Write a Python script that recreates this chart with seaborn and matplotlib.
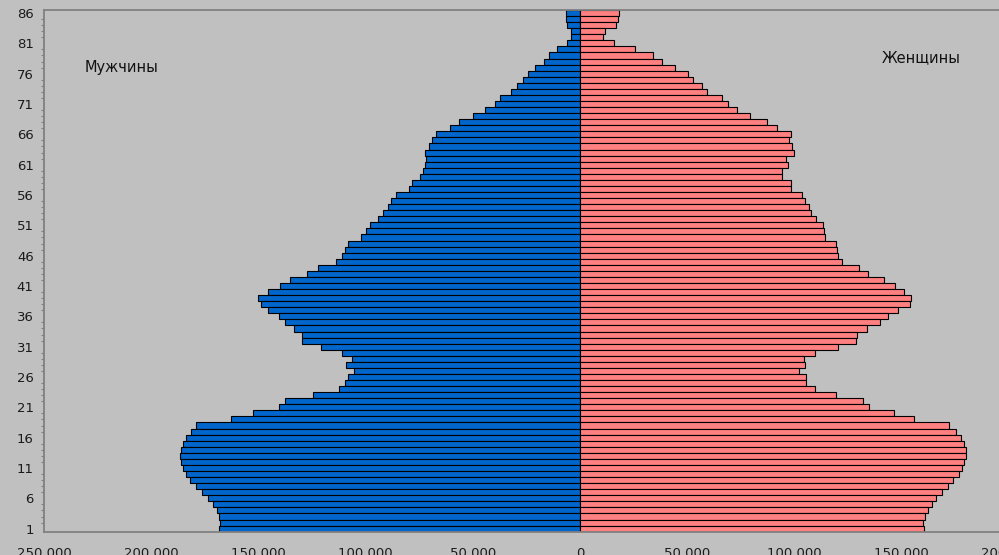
import matplotlib
matplotlib.use("Agg")
import matplotlib.pyplot as plt
import pandas as pd
import seaborn as sns
from matplotlib.ticker import FuncFormatter

# Single-year age groups, youngest first
ages = list(range(1, 87))

# Number of men per age (drawn to the left of zero)
men = [
    168400, 167900, 168400, 169500, 171300, 173600, 176400, 179100, 181800, 183900,
    185500, 186400, 186700, 186400, 185500, 183900, 181600, 179200, 162900, 152400,
    140700, 137900, 124600, 112700, 109600, 108300, 105700, 109300, 106500, 111100,
    120900, 129800, 129800, 133700, 137900, 140700, 145400, 148800, 150100, 145400,
    139900, 135300, 127500, 122500, 114000, 110900, 109600, 108100, 102000, 99800,
    97800, 94500, 92000, 89700, 88000, 86000, 79900, 78300, 74600, 73200,
    72400, 71800, 72200, 70300, 68900, 67300, 60600, 56300, 50200, 44400,
    39600, 37200, 32200, 29500, 26800, 24400, 21000, 16800, 14700, 10800,
    6200, 4300, 4300, 5900, 6400, 6400,
]

# Number of women per age (drawn to the right of zero)
women = [
    160500, 160000, 161000, 162400, 164200, 165900, 168700, 171500, 174200, 176700,
    178400, 179200, 179900, 179900, 179200, 177600, 175300, 172200, 155800, 146400,
    134800, 132000, 119600, 109800, 105600, 105600, 102000, 104900, 104400, 109500,
    120100, 128600, 129200, 133900, 139800, 143600, 148400, 154100, 154300, 151000,
    146800, 141800, 134400, 130200, 122000, 120400, 119700, 119400, 114200, 113900,
    113400, 110000, 107700, 106600, 104900, 103500, 98400, 98400, 94000, 94000,
    97000, 96000, 99600, 98700, 97600, 98400, 92000, 87300, 79200, 73000,
    69100, 66000, 59200, 57000, 52500, 50400, 44200, 38000, 34100, 25600,
    15800, 10800, 11400, 16700, 17500, 18300,
]

sex_labels = ["Мужчины", "Женщины"]
sex_colors = ["#0066cc", "#ff8080"]
x_ticks = [-250000, -200000, -150000, -100000, -50000, 0, 50000, 100000, 150000, 200000]
labelled_ages = list(range(1, 87, 5))

df = pd.DataFrame({
    "age": [str(a) for a in ages] * 2,
    "sex": [sex_labels[0]] * len(ages) + [sex_labels[1]] * len(ages),
    "value": [-m for m in men] + list(women),
})
order = [str(a) for a in reversed(ages)]

sns.set_theme(style="white")
plt.rcParams["font.family"] = ["DejaVu Sans"]

bg = "#c0c0c0"
axis_grey = "#808080"

fig = plt.figure(figsize=(9.99, 5.55), dpi=100, facecolor=bg)
ax = fig.add_axes([0.0443, 0.042, 0.9655, 0.940])
ax.set_facecolor(bg)

sns.barplot(
    data=df, x="value", y="age", hue="sex",
    order=order, hue_order=sex_labels, palette=sex_colors,
    dodge=False, width=1.0, saturation=1,
    edgecolor="black", linewidth=0.8,
    orient="h", errorbar=None, legend=False, ax=ax,
)

ax.set_xlim(x_ticks[0], x_ticks[-1])
ax.set_ylim(len(ages) - 0.5, -0.5)

ax.set_xticks(x_ticks)
ax.xaxis.set_major_formatter(
    FuncFormatter(lambda v, _: f"{abs(int(round(v))):,}".replace(",", " "))
)
ax.set_yticks([order.index(str(a)) for a in labelled_ages],
              labels=[str(a) for a in labelled_ages])
ax.set_yticks(range(len(ages)), minor=True)

ax.set_xlabel("")
ax.set_ylabel("")

ax.tick_params(axis="both", which="major", direction="out", length=3.6, width=0.9,
               color=axis_grey, labelcolor="#1a1a1a", labelsize=9.5)
ax.tick_params(axis="x", which="major", pad=7.5)
ax.tick_params(axis="y", which="major", pad=4)
ax.tick_params(axis="y", which="minor", direction="out", length=2.4, width=0.8,
               color=axis_grey, left=True)

for side in ("top", "left", "bottom"):
    ax.spines[side].set_visible(True)
    ax.spines[side].set_color(axis_grey)
    ax.spines[side].set_linewidth(1.3)
ax.spines["right"].set_visible(False)

fig.text(0.085, 0.879, sex_labels[0], ha="left", va="center", fontsize=10.5, color="#111111")
fig.text(0.8826, 0.897, sex_labels[1], ha="left", va="center", fontsize=10.5, color="#111111")

fig.savefig("out.png", dpi=100, facecolor=bg)
